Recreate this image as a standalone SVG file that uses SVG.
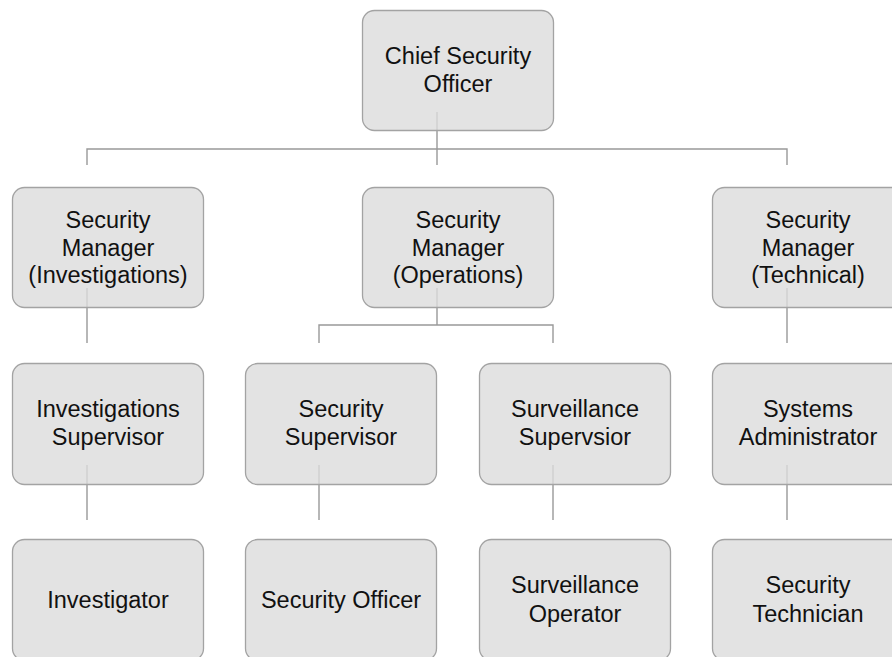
<svg xmlns="http://www.w3.org/2000/svg" width="892" height="657" viewBox="0 0 892 657">
  <style>
    .box { fill: #dcdcdc; fill-opacity: 0.8; stroke: #a3a3a3; stroke-width: 1.3; }
    .lbl { font-family: "Liberation Sans", Arial, sans-serif; font-size: 23.5px; fill: #111; text-anchor: middle; }
    .conn { fill: none; stroke: #999; stroke-width: 1.4; }
  </style>
  <rect width="892" height="657" fill="#fff"/>
  <g id="connectors" class="conn">
    <path d="M437,112 V165 M87,165 V149 H787 V165"/>
    <path d="M87,288 V343 M787,288 V343 M437,288 V325 M319,343 V325 H553 V343"/>
    <path d="M87,465 V520 M319,465 V520 M553,465 V520 M787,465 V520"/>
  </g>
  <g id="chief">
    <rect class="box" x="362.5" y="10.5" width="191" height="120" rx="12"/>
    <text class="lbl" x="458" y="64">Chief Security</text>
    <text class="lbl" x="458" y="92">Officer</text>
  </g>
  <g id="mgr-investigations">
    <rect class="box" x="12.5" y="187.5" width="191" height="120" rx="12"/>
    <text class="lbl" x="108" y="228">Security</text>
    <text class="lbl" x="108" y="256">Manager</text>
    <text class="lbl" x="108" y="283">(Investigations)</text>
  </g>
  <g id="mgr-operations">
    <rect class="box" x="362.5" y="187.5" width="191" height="120" rx="12"/>
    <text class="lbl" x="458" y="228">Security</text>
    <text class="lbl" x="458" y="256">Manager</text>
    <text class="lbl" x="458" y="283">(Operations)</text>
  </g>
  <g id="mgr-technical">
    <rect class="box" x="712.5" y="187.5" width="191" height="120" rx="12"/>
    <text class="lbl" x="808" y="228">Security</text>
    <text class="lbl" x="808" y="256">Manager</text>
    <text class="lbl" x="808" y="283">(Technical)</text>
  </g>
  <g id="inv-supervisor">
    <rect class="box" x="12.5" y="363.5" width="191" height="121" rx="12"/>
    <text class="lbl" x="108" y="417">Investigations</text>
    <text class="lbl" x="108" y="445">Supervisor</text>
  </g>
  <g id="sec-supervisor">
    <rect class="box" x="245.5" y="363.5" width="191" height="121" rx="12"/>
    <text class="lbl" x="341" y="417">Security</text>
    <text class="lbl" x="341" y="445">Supervisor</text>
  </g>
  <g id="surv-supervisor">
    <rect class="box" x="479.5" y="363.5" width="191" height="121" rx="12"/>
    <text class="lbl" x="575" y="417">Surveillance</text>
    <text class="lbl" x="575" y="445">Supervsior</text>
  </g>
  <g id="sys-admin">
    <rect class="box" x="712.5" y="363.5" width="191" height="121" rx="12"/>
    <text class="lbl" x="808" y="417">Systems</text>
    <text class="lbl" x="808" y="445">Administrator</text>
  </g>
  <g id="investigator">
    <rect class="box" x="12.5" y="539.5" width="191" height="121" rx="12"/>
    <text class="lbl" x="108" y="608">Investigator</text>
  </g>
  <g id="security-officer">
    <rect class="box" x="245.5" y="539.5" width="191" height="121" rx="12"/>
    <text class="lbl" x="341" y="608">Security Officer</text>
  </g>
  <g id="surv-operator">
    <rect class="box" x="479.5" y="539.5" width="191" height="121" rx="12"/>
    <text class="lbl" x="575" y="593">Surveillance</text>
    <text class="lbl" x="575" y="622">Operator</text>
  </g>
  <g id="sec-technician">
    <rect class="box" x="712.5" y="539.5" width="191" height="121" rx="12"/>
    <text class="lbl" x="808" y="593">Security</text>
    <text class="lbl" x="808" y="622">Technician</text>
  </g>
</svg>
